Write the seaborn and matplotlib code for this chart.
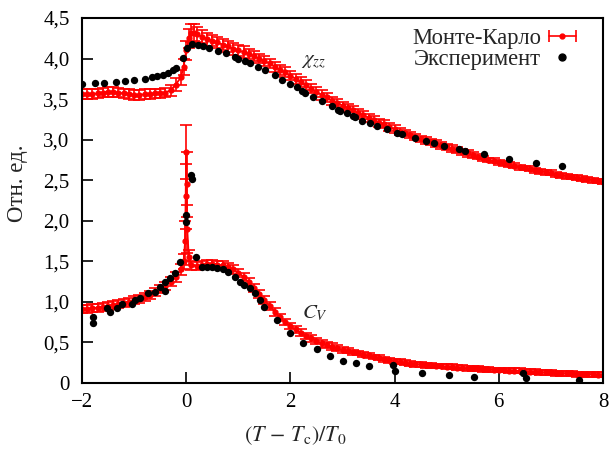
import matplotlib
matplotlib.use("Agg")
import matplotlib.pyplot as plt
from matplotlib.lines import Line2D
from matplotlib.legend_handler import HandlerBase
from matplotlib.ticker import FuncFormatter
import seaborn as sns

# Monte-Carlo susceptibility chi_zz
chi_mc_x = [-2.0, -1.9, -1.8, -1.7, -1.6, -1.5, -1.4, -1.3, -1.2, -1.1, -1.0, -0.9, -0.8, -0.7,
            -0.6, -0.5, -0.4, -0.3, -0.2, -0.1, -0.05, 0.0, 0.05, 0.1, 0.15, 0.2, 0.3, 0.4, 0.5,
            0.6, 0.7, 0.8, 0.9, 1.0, 1.1, 1.2, 1.3, 1.4, 1.5, 1.6, 1.7, 1.8, 1.9, 2.0, 2.1, 2.2,
            2.3, 2.4, 2.5, 2.6, 2.7, 2.8, 2.9, 3.0, 3.1, 3.2, 3.3, 3.4, 3.5, 3.6, 3.7, 3.8, 3.9,
            4.0, 4.1, 4.2, 4.3, 4.4, 4.5, 4.6, 4.7, 4.8, 4.9, 5.0, 5.1, 5.2, 5.3, 5.4, 5.5, 5.6,
            5.7, 5.8, 5.9, 6.0, 6.1, 6.2, 6.3, 6.4, 6.5, 6.6, 6.7, 6.8, 6.9, 7.0, 7.1, 7.2, 7.3,
            7.4, 7.5, 7.6, 7.7, 7.8, 7.9, 8.0]
chi_mc_y = [3.56, 3.56, 3.56, 3.57, 3.58, 3.59, 3.59, 3.58, 3.57, 3.56, 3.55, 3.55, 3.56, 3.56,
            3.57, 3.57, 3.58, 3.61, 3.68, 3.77, 3.90, 4.10, 4.25, 4.31, 4.32, 4.30, 4.27, 4.24, 4.22,
            4.20, 4.17, 4.15, 4.12, 4.10, 4.08, 4.06, 4.03, 4.00, 3.97, 3.94, 3.90, 3.86, 3.83, 3.79,
            3.75, 3.71, 3.67, 3.63, 3.59, 3.55, 3.52, 3.48, 3.45, 3.42, 3.39, 3.36, 3.33, 3.30, 3.27,
            3.24, 3.21, 3.19, 3.16, 3.13, 3.10, 3.08, 3.06, 3.03, 3.01, 2.99, 2.97, 2.95, 2.93, 2.91,
            2.89, 2.87, 2.85, 2.83, 2.81, 2.79, 2.77, 2.75, 2.74, 2.72, 2.71, 2.69, 2.68, 2.66, 2.65,
            2.64, 2.62, 2.61, 2.60, 2.59, 2.57, 2.56, 2.55, 2.54, 2.53, 2.52, 2.51, 2.50, 2.49, 2.48]
chi_mc_err = [0.06, 0.06, 0.06, 0.06, 0.06, 0.06, 0.06, 0.06, 0.06, 0.06, 0.06, 0.06, 0.06, 0.06,
              0.06, 0.06, 0.06, 0.07, 0.08, 0.09, 0.10, 0.12, 0.12, 0.11, 0.10, 0.09, 0.08, 0.08, 0.07,
              0.07, 0.07, 0.07, 0.07, 0.07, 0.07, 0.06, 0.06, 0.06, 0.06, 0.06, 0.06, 0.06, 0.06, 0.06,
              0.06, 0.06, 0.06, 0.06, 0.06, 0.06, 0.05, 0.05, 0.05, 0.05, 0.05, 0.05, 0.05, 0.05, 0.05,
              0.05, 0.05, 0.05, 0.05, 0.05, 0.04, 0.04, 0.04, 0.04, 0.04, 0.04, 0.04, 0.04, 0.04, 0.04,
              0.04, 0.04, 0.04, 0.04, 0.04, 0.03, 0.03, 0.03, 0.03, 0.03, 0.03, 0.03, 0.03, 0.03, 0.03,
              0.03, 0.03, 0.03, 0.03, 0.03, 0.03, 0.03, 0.03, 0.03, 0.03, 0.03, 0.03, 0.03, 0.03, 0.03]

# Monte-Carlo specific heat C_V
cv_mc_x = [-2.0, -1.9, -1.8, -1.7, -1.6, -1.5, -1.4, -1.3, -1.2, -1.1, -1.0, -0.9, -0.8, -0.7,
           -0.6, -0.5, -0.4, -0.3, -0.2, -0.1, -0.05, -0.02, -0.01, 0.0, 0.01, 0.02, 0.05, 0.1,
           0.2, 0.3, 0.4, 0.5, 0.6, 0.7, 0.8, 0.9, 1.0, 1.1, 1.2, 1.3, 1.4, 1.5, 1.6, 1.7, 1.8,
           1.9, 2.0, 2.1, 2.2, 2.3, 2.4, 2.5, 2.6, 2.7, 2.8, 2.9, 3.0, 3.1, 3.2, 3.3, 3.4, 3.5,
           3.6, 3.7, 3.8, 3.9, 4.0, 4.1, 4.2, 4.3, 4.4, 4.5, 4.6, 4.7, 4.8, 4.9, 5.0, 5.1, 5.2,
           5.3, 5.4, 5.5, 5.6, 5.7, 5.8, 5.9, 6.0, 6.1, 6.2, 6.3, 6.4, 6.5, 6.6, 6.7, 6.8, 6.9,
           7.0, 7.1, 7.2, 7.3, 7.4, 7.5, 7.6, 7.7, 7.8, 7.9, 8.0]
cv_mc_y = [0.91, 0.91, 0.92, 0.93, 0.94, 0.95, 0.96, 0.97, 0.99, 1.00, 1.02, 1.04, 1.06, 1.09,
           1.12, 1.16, 1.20, 1.25, 1.31, 1.40, 1.50, 1.75, 2.30, 2.85, 2.45, 1.90, 1.55, 1.45,
           1.44, 1.45, 1.47, 1.47, 1.46, 1.45, 1.43, 1.40, 1.36, 1.31, 1.24, 1.17, 1.10, 1.02, 0.95,
           0.88, 0.81, 0.75, 0.70, 0.66, 0.62, 0.58, 0.55, 0.52, 0.49, 0.47, 0.45, 0.43, 0.41, 0.40,
           0.38, 0.37, 0.35, 0.34, 0.32, 0.31, 0.29, 0.28, 0.27, 0.26, 0.25, 0.24, 0.23, 0.23, 0.22,
           0.22, 0.21, 0.21, 0.20, 0.20, 0.19, 0.19, 0.18, 0.18, 0.18, 0.17, 0.17, 0.16, 0.16, 0.16,
           0.15, 0.15, 0.15, 0.14, 0.14, 0.14, 0.13, 0.13, 0.13, 0.12, 0.12, 0.12, 0.12, 0.11, 0.11,
           0.11, 0.11, 0.10, 0.10]
cv_mc_err = [0.05, 0.05, 0.05, 0.05, 0.05, 0.05, 0.05, 0.05, 0.05, 0.05, 0.05, 0.05, 0.05, 0.05,
             0.05, 0.05, 0.05, 0.06, 0.06, 0.07, 0.09, 0.25, 0.40, 0.33, 0.40, 0.30, 0.09, 0.06,
             0.05, 0.05, 0.05, 0.05, 0.05, 0.05, 0.05, 0.05, 0.05, 0.05, 0.05, 0.05, 0.05, 0.05, 0.05,
             0.05, 0.04, 0.04, 0.04, 0.04, 0.04, 0.04, 0.04, 0.04, 0.04, 0.04, 0.04, 0.04, 0.04, 0.03,
             0.03, 0.03, 0.03, 0.03, 0.03, 0.03, 0.03, 0.03, 0.03, 0.03, 0.03, 0.03, 0.03, 0.03, 0.03,
             0.03, 0.03, 0.03, 0.03, 0.03, 0.03, 0.03, 0.03, 0.03, 0.03, 0.03, 0.03, 0.03, 0.03, 0.03,
             0.03, 0.03, 0.03, 0.03, 0.03, 0.03, 0.03, 0.03, 0.03, 0.03, 0.03, 0.03, 0.03, 0.03, 0.03,
             0.03, 0.03, 0.03, 0.03]

# Measured susceptibility
chi_exp_x = [-2.0, -1.75, -1.57, -1.34, -1.17, -1.0, -0.79, -0.66, -0.56, -0.45, -0.35, -0.25,
             -0.19, -0.06, 0.02, 0.12, 0.23, 0.33, 0.44, 0.61, 0.77, 0.94, 1.0, 1.13, 1.23, 1.38,
             1.52, 1.71, 1.84, 2.0, 2.13, 2.23, 2.28, 2.44, 2.61, 2.80, 2.92, 2.96, 3.09, 3.21,
             3.24, 3.38, 3.53, 3.67, 3.86, 4.05, 4.15, 4.40, 4.61, 4.76, 4.95, 5.24, 5.36, 5.72,
             6.2, 6.72, 7.22]
chi_exp_y = [3.69, 3.70, 3.70, 3.71, 3.72, 3.73, 3.75, 3.77, 3.78, 3.80, 3.82, 3.86,
             3.88, 4.01, 4.13, 4.18, 4.17, 4.15, 4.13, 4.09, 4.07, 4.02, 4.00, 3.97, 3.95, 3.90,
             3.86, 3.80, 3.74, 3.69, 3.65, 3.60, 3.58, 3.53, 3.48, 3.42, 3.37, 3.35, 3.33, 3.29,
             3.28, 3.23, 3.20, 3.17, 3.13, 3.08, 3.07, 3.02, 2.98, 2.96, 2.92, 2.89, 2.86, 2.82,
             2.76, 2.71, 2.68]

# Measured specific heat
cv_exp_x = [-1.79, -1.79, -1.52, -1.46, -1.33, -1.23, -1.04, -0.98, -0.88, -0.73, -0.60, -0.50,
            -0.40, -0.40, -0.31, -0.21, -0.12, 0.0, 0.0, 0.10, 0.11, 0.19, 0.31, 0.40, 0.50, 0.60,
            0.71, 0.81, 0.94, 1.04, 1.10, 1.23, 1.32, 1.42, 1.50, 1.75, 2.0, 2.25, 2.51, 2.76,
            3.01, 3.26, 3.51, 3.97, 4.01, 4.53, 5.05, 5.53, 6.47, 6.53, 7.54]
cv_exp_y = [0.81, 0.74, 0.92, 0.88, 0.92, 0.97, 0.98, 1.02, 1.05, 1.11, 1.12, 1.18,
            1.25, 1.13, 1.29, 1.36, 1.49, 1.99, 2.07, 2.56, 2.52, 1.55, 1.43, 1.43, 1.43, 1.42,
            1.41, 1.37, 1.31, 1.25, 1.21, 1.17, 1.11, 1.02, 0.94, 0.78, 0.62, 0.49, 0.42, 0.33,
            0.27, 0.25, 0.21, 0.22, 0.15, 0.12, 0.10, 0.08, 0.12, 0.06, 0.04]

x_ticks = [-2, 0, 2, 4, 6, 8]
y_ticks = [0, 0.5, 1.0, 1.5, 2.0, 2.5, 3.0, 3.5, 4.0, 4.5]

sns.set_theme(style="ticks")
plt.rcParams["font.family"] = ["Liberation Serif", "DejaVu Serif"]
plt.rcParams["mathtext.fontset"] = "stix"
plt.rcParams["axes.unicode_minus"] = True

FS = 15
fig = plt.figure(figsize=(6.09, 4.5), dpi=100)
ax = fig.add_axes([82 / 609, 67 / 450, 521 / 609, 365 / 450])

mc_style = dict(fmt="-o", color="red", ms=3.5, lw=1.3, elinewidth=1.2,
                capsize=4.0, capthick=1.2, zorder=2)
ax.errorbar(chi_mc_x, chi_mc_y, yerr=chi_mc_err, **mc_style)
ax.errorbar(cv_mc_x, cv_mc_y, yerr=cv_mc_err, **mc_style)

sns.scatterplot(x=chi_exp_x, y=chi_exp_y, color="black", s=28, linewidth=0,
                ax=ax, legend=False, zorder=3)
sns.scatterplot(x=cv_exp_x, y=cv_exp_y, color="black", s=28, linewidth=0,
                ax=ax, legend=False, zorder=3)

ax.set_xlim(-2, 8)
ax.set_ylim(0, 4.5)
ax.set_xticks(x_ticks)
ax.set_yticks(y_ticks)
ax.yaxis.set_major_formatter(FuncFormatter(
    lambda v, p: "0" if v == 0 else f"{v:.1f}".replace(".", ",")))
ax.tick_params(direction="in", length=8, width=1.2, labelsize=FS, colors="black",
               top=False, right=False)
ax.tick_params(axis="y", pad=9)
ax.tick_params(axis="x", pad=7)
for s in ax.spines.values():
    s.set_linewidth(1.5)
    s.set_color("black")

ax.set_xlabel(r"$(T\, -\, T_{\rm c})/T_0$", fontsize=16)
ax.xaxis.set_label_coords(0.409, -0.112)
ax.set_ylabel("Отн. ед.", fontsize=16.5)
ax.yaxis.set_label_coords(-0.104, 0.548)

ax.text(2.2, 3.96, r"$\chi_{zz}$", fontsize=FS, va="center", ha="left")
ax.text(2.23, 0.86, r"$C_V$", fontsize=FS, va="center", ha="left")


class HandlerCappedLine(HandlerBase):
    def create_artists(self, legend, orig_handle, xdescent, ydescent,
                       width, height, fontsize, trans):
        y = height / 2 - ydescent
        x0, x1 = -xdescent, width - xdescent
        line = Line2D([x0, x1], [y, y], color="red", lw=1.2, transform=trans)
        caps = Line2D([x0, x1], [y, y], ls="none", marker="|", ms=8, mew=1.2,
                      color="red", transform=trans)
        dot = Line2D([(x0 + x1) / 2], [y], ls="none", marker="o", ms=3.5,
                     color="red", transform=trans)
        return [line, caps, dot]


mc_handle = Line2D([], [], color="red")
exp_handle = Line2D([], [], ls="none", marker="o", ms=5, color="black")
fig.legend([mc_handle, exp_handle], ["Монте-Карло", "Эксперимент"],
           handler_map={mc_handle: HandlerCappedLine()},
           loc="upper right", bbox_to_anchor=(576 / 609, 1 - 28 / 450),
           frameon=False, markerfirst=False, fontsize=16.3, borderpad=0,
           borderaxespad=0, handlelength=1.2, handletextpad=0.35, labelspacing=0.0)

fig.savefig("out.png", dpi=100)
